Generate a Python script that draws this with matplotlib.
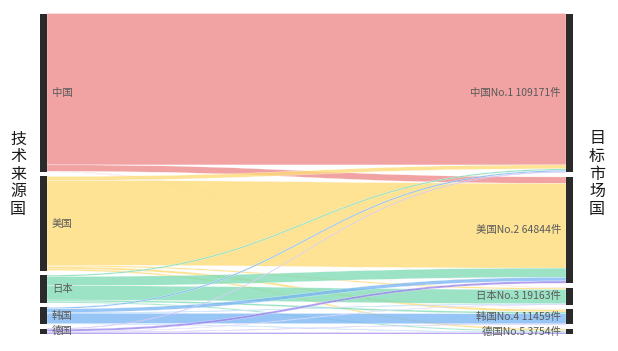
import matplotlib
matplotlib.use('Agg')
import matplotlib.pyplot as plt
import numpy as np
from matplotlib.patches import PathPatch, Rectangle
from matplotlib.path import Path

plt.rcParams['font.family'] = ['Noto Sans CJK SC', 'DejaVu Sans']

# ---- data ----
sources = ['中国', '美国', '日本', '韩国', '德国']
targets = ['中国No.1 109171件', '美国No.2 64844件', '日本No.3 19163件',
           '韩国No.4 11459件', '德国No.5 3754件']
# rows: source, cols: target
flow_cn = [104300, 4400, 230, 170, 71]
flow_us = [2700, 58400, 1000, 1600, 1144]
flow_jp = [1000, 6350, 9813, 1200, 800]
flow_kr = [1000, 2500, 500, 7000, 459]
flow_de = [500, 1554, 300, 400, 1000]
flows = np.array([flow_cn, flow_us, flow_jp, flow_kr, flow_de], dtype=float)

colors = ['#ee8a8a', '#fedc78', '#80dcb6', '#7ab6f4', '#9a84ee']
left_title = '技术来源国'
right_title = '目标市场国'

# ---- layout (pixel space) ----
W, H = 618, 351
fig = plt.figure(figsize=(W / 100, H / 100), dpi=100)
ax = fig.add_axes([0, 0, 1, 1])
ax.set_xlim(0, W)
ax.set_ylim(H, 0)
ax.axis('off')

top, bottom, gap = 13.5, 334.0, 4.5
xl0, xl1 = 40, 47
xr0, xr1 = 566, 573

src_tot = flows.sum(axis=1)
tgt_tot = flows.sum(axis=0)
scale = (bottom - top - gap * (len(sources) - 1)) / src_tot.sum()

def node_pos(totals):
    pos = []
    y = top
    for t in totals:
        h = t * scale
        pos.append((y, y + h))
        y += h + gap
    return pos

lpos = node_pos(src_tot)
rpos = node_pos(tgt_tot)

# link offsets
src_off = [p[0] for p in lpos]
links = []
for i in range(len(sources)):
    for j in range(len(targets)):
        h = flows[i, j] * scale
        ys = src_off[i]
        src_off[i] += h
        links.append((i, j, ys, h))
tgt_start = {}
for j in range(len(targets)):
    y = rpos[j][0]
    for i in range(len(sources)):
        tgt_start[(i, j)] = y
        y += flows[i, j] * scale

xm = (xl1 + xr0) / 2
for i, j, ys, h in links:
    yt = tgt_start[(i, j)]
    verts = [(xl1, ys), (xm, ys), (xm, yt), (xr0, yt),
             (xr0, yt + h),
             (xm, yt + h), (xm, ys + h), (xl1, ys + h),
             (xl1, ys)]
    codes = [Path.MOVETO, Path.CURVE4, Path.CURVE4, Path.CURVE4,
             Path.LINETO,
             Path.CURVE4, Path.CURVE4, Path.CURVE4,
             Path.CLOSEPOLY]
    ax.add_patch(PathPatch(Path(verts, codes), facecolor=colors[i],
                           edgecolor='white', linewidth=0.25, alpha=0.78))

for (y0, y1) in lpos:
    ax.add_patch(Rectangle((xl0, y0), xl1 - xl0, y1 - y0, color='#2a2a2a', lw=0))
for (y0, y1) in rpos:
    ax.add_patch(Rectangle((xr0, y0), xr1 - xr0, y1 - y0, color='#2a2a2a', lw=0))

for name, (y0, y1) in zip(sources, lpos):
    ax.text(52, (y0 + y1) / 2, name, ha='left', va='center', fontsize=7.5,
            color='#5a5a5a')
for name, (y0, y1) in zip(targets, rpos):
    ax.text(561, (y0 + y1) / 2, name, ha='right', va='center', fontsize=7.5,
            color='#5a5a5a')

for k, ch in enumerate(left_title):
    ax.text(18, 139 + k * 17.6, ch, ha='center', va='center', fontsize=11.5,
            color='#1a1a1a')
for k, ch in enumerate(right_title):
    ax.text(597, 139 + k * 17.6, ch, ha='center', va='center', fontsize=11.5,
            color='#1a1a1a')

fig.savefig('out.png', dpi=100, facecolor='white')
